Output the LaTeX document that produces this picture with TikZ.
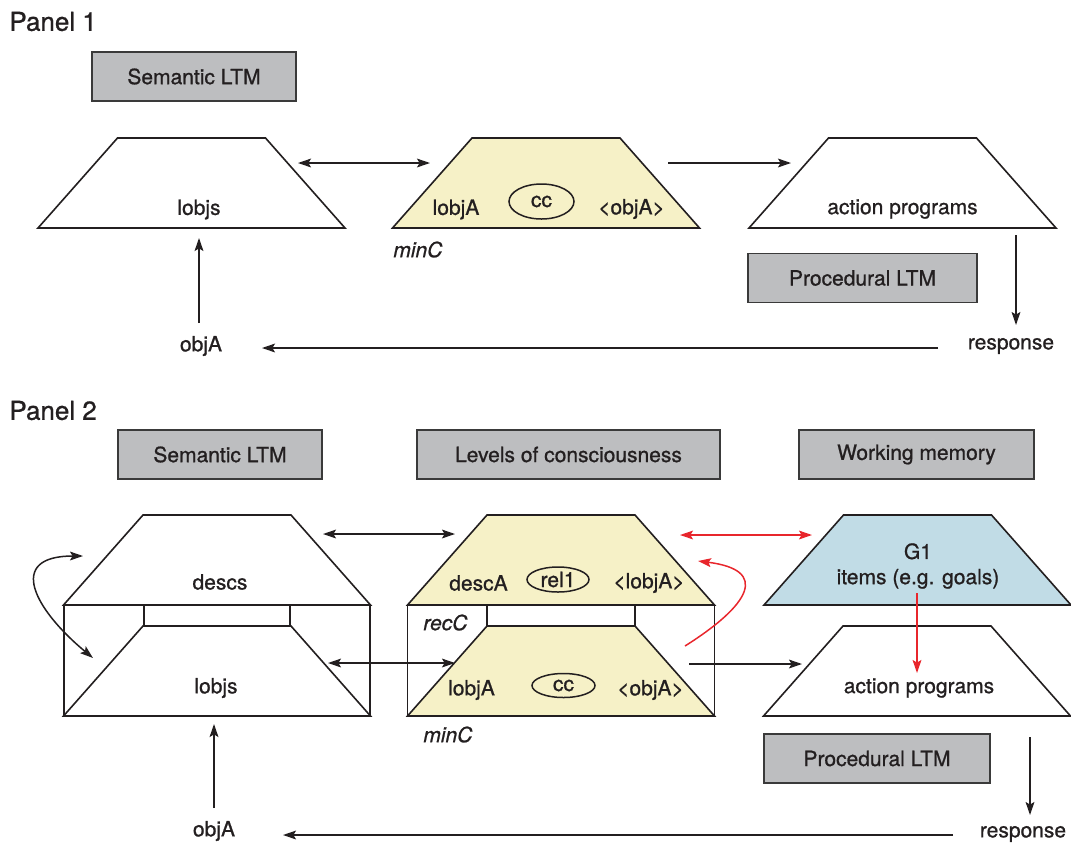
\documentclass[tikz,border=0pt]{standalone}
\usepackage{fontspec}
\setmainfont{TeX Gyre Heros}[UprightFeatures={FakeBold=0.9}, ItalicFeatures={FakeBold=0.9}]
\usetikzlibrary{arrows.meta, shapes.geometric}
\definecolor{ltmgray}{HTML}{BDBEC0}
\definecolor{ltmline}{HTML}{3A3A3A}
\definecolor{inkblack}{HTML}{231F20}
\definecolor{mincolor}{HTML}{F6F1C7}
\definecolor{wmcolor}{HTML}{C1DCE6}
\definecolor{linkred}{HTML}{E8262C}
\tikzset{
    ltm box/.style = {rectangle, draw=ltmline, fill=ltmgray, line width=0.8pt, minimum height=24.5pt, inner sep=0pt},
    level text/.style = {anchor=west, font=\fontsize{10.5}{12.6}\selectfont\itshape},
    ring/.style = {ellipse, draw=inkblack, line width=0.75pt, inner sep=0pt},
    trap line/.style = {draw=inkblack, line width=0.8pt},
    link/.style = {draw=inkblack, line width=0.75pt},
    red link/.style = {draw=linkred, line width=0.75pt}
}

\begin{document}
\begin{tikzpicture}[x=0.5pt, y=-0.5pt, >={Stealth[length=6.5pt, width=4.4pt, inset=1.3pt]},
    font=\fontsize{10.5}{12.6}\selectfont, text=inkblack, inner sep=2pt]
    \useasboundingbox (0,0) rectangle (1071,842);
    % panel titles
    \node[anchor=west, font=\fontsize{13}{15}\selectfont] (panel1) at (5,21.5) {Panel 1};
    \node[anchor=west, font=\fontsize{13}{15}\selectfont] (panel2) at (5,410.5) {Panel 2};
    % memory boxes
    \node[ltm box, minimum width=102pt] (sem1) at (194,76.5) {Semantic LTM};
    \node[ltm box, minimum width=114.5pt] (proc1) at (862.5,278) {Procedural LTM};
    \node[ltm box, minimum width=102pt] (sem2) at (220,454.5) {Semantic LTM};
    \node[ltm box, minimum width=151.5pt] (levels) at (568.5,454.5) {Levels of consciousness};
    \node[ltm box, minimum width=117.5pt] (wm) at (916.5,454.5) {Working memory};
    \node[ltm box, minimum width=113pt] (proc2) at (877,758.5) {Procedural LTM};
    % frames round the two levels
    \draw[trap line] (64,605) rectangle (370,716);
    \draw[trap line] (144,605) rectangle (290,626);
    \draw[trap line] (407.5,605) rectangle (714.5,716);
    \draw[trap line] (487,605) rectangle (635,626);
    % trapezoids
    \foreach \x/\y/\c in {191.5/228/white, 546/228/mincolor, 902.5/228/white,
                          217/605/white, 217/716/white, 561/605/mincolor,
                          561/716/mincolor, 917.5/605/wmcolor, 917/716/white}
        \filldraw[trap line, fill=\c] (\x-153.5,\y) -- ++(79.5,-90) -- ++(148,0) -- ++(79.5,90) -- cycle;
    % panel 1 texts
    \node (lobjs1) at (199,209.5) {lobjs};
    \node (lobjA1) at (456,209.5) {lobjA};
    \node[ring, minimum width=32.5pt, minimum height=17.5pt] (cc1) at (541.5,201.5) {cc};
    \node (objAin1) at (631.5,209) {<objA>};
    \node[level text] (minC1) at (389,249.5) {minC};
    \node (action1) at (902.5,209) {action programs};
    \node (objA1) at (201,346) {objA};
    \node (response1) at (1011,346) {response};
    % panel 2 texts
    \node (descs) at (220,582) {descs};
    \node (lobjs2) at (216,688) {lobjs};
    \node (descA) at (478.5,583) {descA};
    \node[ring, minimum width=31pt, minimum height=12.5pt] (rel1) at (558,579.5) {rel1};
    \node (lobjAin) at (649,583) {<lobjA>};
    \node[level text] (recC) at (419,622.5) {recC};
    \node (lobjA2) at (471.5,690) {lobjA};
    \node[ring, minimum width=31.5pt, minimum height=12pt] (cc2) at (563.5,685.5) {cc};
    \node (objAin2) at (650.5,690) {<objA>};
    \node[level text] (minC2) at (419,734.5) {minC};
    \node[align=center] (G1) at (918,566) {G1\\items (e.g. goals)};
    \node (action2) at (919,688) {action programs};
    \node (objA2) at (214,831) {objA};
    \node (response2) at (1023,834) {response};
    % arrow ends, panel 1
    \coordinate (lobjs1 out) at (298,163);
    \coordinate (minC1 in) at (430,163);
    \coordinate (minC1 out) at (668,163);
    \coordinate (action1 in) at (791,163);
    \coordinate (lobjs1 in) at (199,238);
    \coordinate (objA1 out) at (199,323);
    \coordinate (action1 out) at (1016,235);
    \coordinate (response1 in) at (1016,325);
    \coordinate (back1 from) at (938,348);
    \coordinate (back1 to) at (262,348);
    % arrow ends, panel 2
    \coordinate (descs out) at (323,534);
    \coordinate (recC in) at (455,534);
    \coordinate (lobjs2 out) at (328,663);
    \coordinate (minC2 in) at (455,663);
    \coordinate (recC wm) at (680,535);
    \coordinate (wm recC) at (812,535);
    \coordinate (minC2 up) at (685,646);
    \coordinate (recC up) at (698,561);
    \coordinate (loop top) at (83,556);
    \coordinate (loop bottom) at (93,658);
    \coordinate (G1 out) at (917,593);
    \coordinate (action2 in) at (917,673);
    \coordinate (minC2 out) at (689,664);
    \coordinate (action2 left) at (802,664);
    \coordinate (action2 out) at (1030,737);
    \coordinate (response2 in) at (1030,815);
    \coordinate (back2 from) at (953,835);
    \coordinate (back2 to) at (283,835);
    \coordinate (objA2 out) at (214,808);
    \coordinate (lobjs2 in) at (214,724);
    % black connectors
    \draw[link, <->] (lobjs1 out) -- (minC1 in);
    \draw[link, ->] (minC1 out) -- (action1 in);
    \draw[link, ->] (objA1 out) -- (lobjs1 in);
    \draw[link, ->] (action1 out) -- (response1 in);
    \draw[link, ->] (back1 from) -- (back1 to);
    \draw[link, <->] (descs out) -- (recC in);
    \draw[link, <->] (lobjs2 out) -- (minC2 in);
    \draw[link, <->] (loop top) .. controls (5,556) and (35,610) .. (loop bottom);
    \draw[link, ->] (minC2 out) -- (action2 left);
    \draw[link, ->] (action2 out) -- (response2 in);
    \draw[link, ->] (back2 from) -- (back2 to);
    \draw[link, ->] (objA2 out) -- (lobjs2 in);
    % red connectors
    \draw[red link, <->] (recC wm) -- (wm recC);
    \draw[red link, ->] (minC2 up) .. controls (750,605) and (770,570) .. (recC up);
    \draw[red link, ->] (G1 out) -- (action2 in);
\end{tikzpicture}
\end{document}
